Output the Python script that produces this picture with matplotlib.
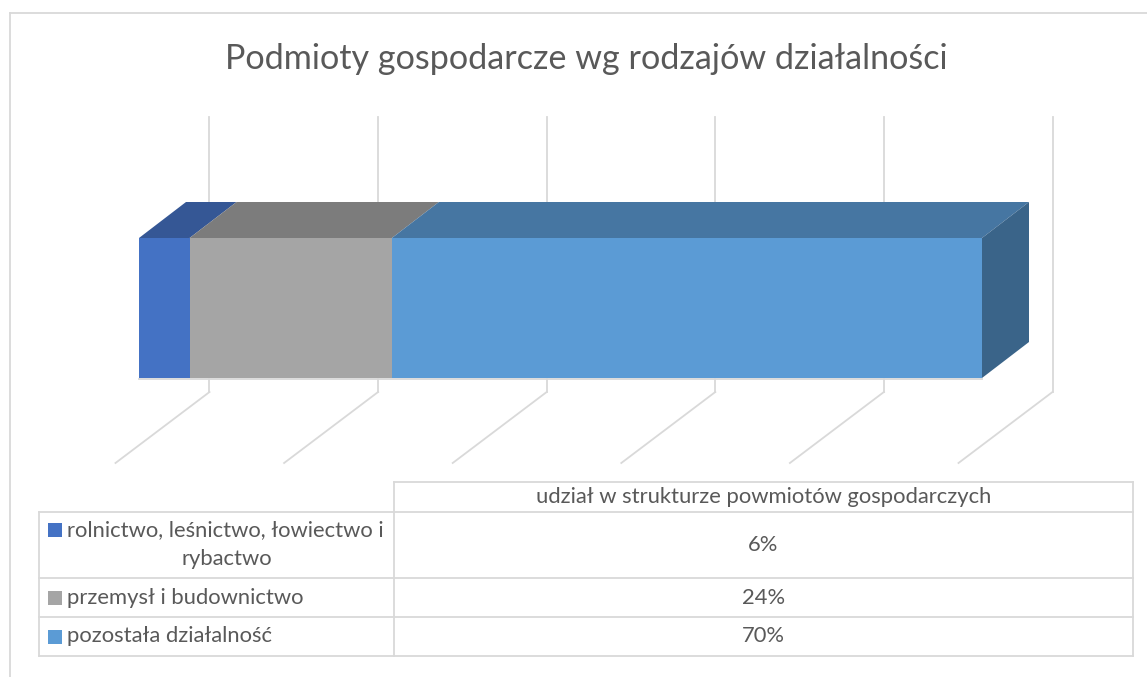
import matplotlib
matplotlib.use("Agg")
import matplotlib.pyplot as plt
from matplotlib.patches import Polygon, Rectangle

W, H = 1147, 677

title = "Podmioty gospodarcze wg rodzajów działalności"
categories = ["rolnictwo, leśnictwo, łowiectwo i\nrybactwo", "przemysł i budownictwo", "pozostała działalność"]
shares = [6, 24, 70]
share_labels = ["6%", "24%", "70%"]
table_header = "udział w strukturze powmiotów gospodarczych"
grid_ticks = [0, 20, 40, 60, 80, 100]

front_colors = ["#4472C4", "#A5A5A5", "#5B9BD5"]
top_colors = ["#355795", "#7C7C7C", "#4676A2"]
side_color = "#3A6489"
line_color = "#D9D9D9"
text_color = "#595959"

# pixels per percent on the value axis, bar starts at x=139
scale = 8.43
x0 = 139

plt.rcParams["font.family"] = ["Lato", "DejaVu Sans"]
fig = plt.figure(figsize=(W / 100, H / 100), dpi=100)
ax = fig.add_axes([0, 0, 1, 1])
ax.set_xlim(-x0 / scale, (W - x0) / scale)
ax.set_ylim(H, 0)
ax.axis("off")

# oblique depth, in axis units
dx = 47 / scale
dy = -36

# chart frame
ax.plot([(10.5 - x0) / scale, (10.5 - x0) / scale], [H, 13], color=line_color, lw=1.3)
ax.plot([(10.5 - x0) / scale, (W - x0) / scale], [13, 13], color=line_color, lw=1.3)

ax.text((586 - x0) / scale, 59, title, ha="center", va="center", fontsize=24.6, color=text_color)

# walls and floor lines
for t in grid_ticks:
    bx = t + 70.5 / scale
    ax.plot([bx, bx], [117, 392], color=line_color, lw=1.3, zorder=1)
    ax.plot([bx, bx - 94 / scale], [392, 463], color=line_color, lw=1.3, zorder=1)

# stacked bar: front faces then the oblique top and side
bar_top, bar_bottom = 238, 378
ax.plot([0, 100], [bar_bottom + 0.5, bar_bottom + 0.5], color=line_color, lw=1.3, zorder=2)
left = 0
for share, front, top in zip(shares, front_colors, top_colors):
    ax.barh((bar_top + bar_bottom) / 2, share, height=bar_bottom - bar_top, left=left, color=front, zorder=3)
    ax.add_patch(Polygon(
        [(left, bar_top), (left + share, bar_top), (left + share + dx, bar_top + dy), (left + dx, bar_top + dy)],
        closed=True, facecolor=top, edgecolor="none", zorder=3))
    left += share
ax.add_patch(Polygon(
    [(left, bar_top), (left + dx, bar_top + dy), (left + dx, bar_bottom + dy), (left, bar_bottom)],
    closed=True, facecolor=side_color, edgecolor="none", zorder=3))

# data table under the chart
tx = [(v - x0) / scale for v in (39.5, 394, 1132.5)]
ty = [482, 512, 578, 617, 656]
ax.plot([tx[1], tx[2]], [ty[0], ty[0]], color=line_color, lw=1.3)
for y in ty[1:]:
    ax.plot([tx[0], tx[2]], [y, y], color=line_color, lw=1.3)
ax.plot([tx[0], tx[0]], [ty[1], ty[-1]], color=line_color, lw=1.3)
ax.plot([tx[1], tx[1]], [ty[0], ty[-1]], color=line_color, lw=1.3)
ax.plot([tx[2], tx[2]], [ty[0], ty[-1]], color=line_color, lw=1.3)

mid = (tx[1] + tx[2]) / 2
ax.text(mid, (ty[0] + ty[1]) / 2, table_header, ha="center", va="center", fontsize=15.8, color=text_color)
for i, (cat, lab, col) in enumerate(zip(categories, share_labels, front_colors)):
    yc = (ty[i + 1] + ty[i + 2]) / 2
    ax.text(mid, yc, lab, ha="center", va="center", fontsize=15.8, color=text_color)
    lines = cat.split("\n")
    y1 = yc if len(lines) == 1 else yc - 15
    ax.add_patch(Rectangle(((48 - x0) / scale, y1 - 7), 14 / scale, 14, facecolor=col, edgecolor="none"))
    ax.text((67 - x0) / scale, y1, lines[0], ha="left", va="center", fontsize=15.8, color=text_color)
    if len(lines) > 1:
        ax.text((227 - x0) / scale, y1 + 29, lines[1], ha="center", va="center", fontsize=15.8, color=text_color)

fig.savefig("out.png", dpi=100)
